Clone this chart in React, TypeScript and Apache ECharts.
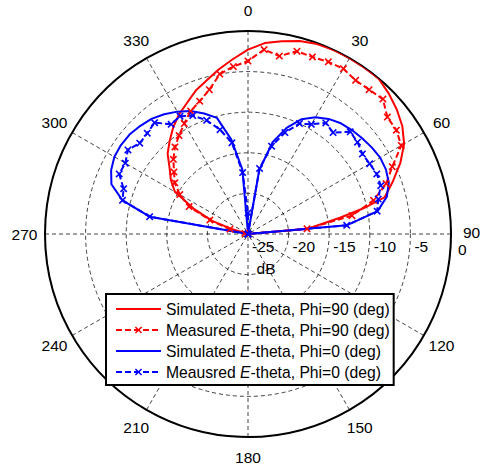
import React, { useEffect, useRef } from 'react';
import * as echarts from 'echarts';

const FONT = 'Liberation Sans, Arial, Helvetica, sans-serif';

const angleTicks = [0, 30, 60, 90, 120, 150, 180, 210, 240, 270, 300, 330];
const radialTicks = [-25, -20, -15, -10, -5, 0];
const radialUnit = 'dB';

const seriesNames = [
  'Simulated E-theta, Phi=90 (deg)',
  'Measured E-theta, Phi=90 (deg)',
  'Simulated E-theta, Phi=0 (deg)',
  'Meausred E-theta, Phi=0 (deg)',
];

const redSimAngles = [270, 280, 285, 287.5, 290, 295, 300, 305, 310, 315, 320, 325, 330, 335, 340, 345, 350, 355, 0, 5, 10, 15, 20, 25, 30, 35, 40, 45, 50, 55, 60, 65, 70, 75, 77.5, 80, 85, 90];
const redSimDb = [-25, -25, -24.5, -22.7, -20.3, -17.6, -14.6, -13.4, -12.4, -11.0, -10.0, -8.95, -8.0, -7.2, -6.2, -5.4, -4.4, -3.4, -2.3, -1.4, -0.9, -0.4, -0.1, 0, 0, 0, 0, -0.5, -1.1, -1.8, -2.8, -4.3, -6.0, -7.6, -10.5, -13.5, -17.7, -25];

const redMeasAngles = [270, 275, 280, 285, 290, 295, 300, 305, 310, 315, 320, 325, 330, 335, 340, 345, 350, 355, 0, 5, 10, 15, 20, 25, 30, 35, 40, 45, 50, 55, 60, 65, 70, 75, 80, 85, 90];
const redMeasDb = [-25, -25, -24.6, -22.7, -20, -17, -15.3, -14, -13.1, -12, -11, -10.2, -9.3, -8.3, -7.6, -6.6, -5, -4.3, -3.7, -2.2, -2.75, -1.7, -1.8, -1.6, -1.5, -1.9, -1.8, -1.5, -2.6, -2.7, -3.2, -5.4, -6.9, -9.0, -12, -17.7, -25];

const blueSimAngles = [270, 280, 285, 290, 295, 300, 305, 310, 315, 320, 325, 330, 335, 340, 345, 350, 355, 0, 5, 10, 15, 20, 25, 30, 35, 40, 45, 50, 55, 60, 65, 70, 75, 80, 85, 90];
const blueSimDb = [-25, -12.7, -9.0, -7.1, -6.4, -6.0, -5.9, -5.95, -6.2, -6.5, -7.0, -7.6, -8.3, -9.2, -10.2, -13.2, -17.0, -25, -25, -17, -13.3, -11.1, -9.4, -8.4, -7.7, -7.2, -6.9, -6.65, -6.4, -6.2, -6.25, -6.55, -7.3, -8.8, -12.8, -25];

const blueMeasAngles = [270, 280, 285, 290, 295, 300, 305, 310, 315, 320, 325, 330, 335, 340, 345, 350, 355, 0, 5, 10, 15, 20, 25, 30, 35, 40, 45, 50, 55, 60, 65, 70, 75, 80, 85, 90];
const blueMeasDb = [-25, -12.7, -9.0, -8.7, -7.5, -7.55, -6.95, -7.6, -7.45, -7.1, -8.5, -8.25, -8.9, -10.1, -11.7, -13.6, -17.4, -22.4, -25, -16.8, -13.8, -11.7, -10, -9.4, -8.3, -8.7, -7.2, -7.4, -7.8, -7.7, -7.5, -7.6, -8.4, -8.85, -12.8, -25];

const CX = 248;
const CY = 234;
const R = 203;
const LABEL_R = 223.5;

const XMARK = 'path://M0,1.5L1.5,0L5,3.5L8.5,0L10,1.5L6.5,5L10,8.5L8.5,10L5,6.5L1.5,10L0,8.5L3.5,5Z';

function pairs(angles: number[], vals: number[]) {
  return angles.map((a, i) => [vals[i], a]);
}

export default function App() {
  const ref = useRef<HTMLDivElement>(null);
  useEffect(() => {
    document.body.style.margin = '0';
    const chart = echarts.init(ref.current!, null, { renderer: 'svg' });
    const rMin = radialTicks[0];
    const rMax = radialTicks[radialTicks.length - 1];
    const toR = (v: number) => ((v - rMin) / (rMax - rMin)) * R;

    const textStyle = (text: string, align: string) => ({
      text,
      fill: '#000',
      font: `15.5px ${FONT}`,
      textAlign: align,
      textVerticalAlign: 'middle',
    });

    const graphics: any[] = radialTicks.map((v) => ({
      type: 'text',
      x: CX + toR(v) + (v === 0 ? 7 : 4),
      y: CY + (v === 0 ? 15 : 12),
      style: textStyle(String(v), 'left'),
      z: 5,
    }));
    graphics.push({
      type: 'text',
      x: CX + 18,
      y: CY + 34,
      style: textStyle(radialUnit, 'center'),
      z: 5,
    });
    angleTicks.forEach((a) => {
      const rad = (a * Math.PI) / 180;
      graphics.push({
        type: 'text',
        x: CX + LABEL_R * Math.sin(rad),
        y: CY - LABEL_R * Math.cos(rad) - (a === 90 ? 2 : 0),
        style: textStyle(String(a), 'center'),
        z: 5,
      });
    });

    const gridStyle = { color: '#111', type: [4, 3] as any, width: 0.8 };

    const mk = (name: string, color: string, data: number[][], measured: boolean) => ({
      name,
      type: 'line',
      coordinateSystem: 'polar',
      data,
      smooth: false,
      showSymbol: measured,
      symbol: measured ? XMARK : 'circle',
      symbolSize: 7.5,
      itemStyle: { color, borderWidth: 0 },
      lineStyle: { color, width: 2, type: measured ? ([6, 3] as any) : 'solid' },
      emphasis: { disabled: true },
      clip: false,
    });

    const legendData = seriesNames.map((name, i) =>
      i % 2 === 0
        ? { name, itemStyle: { color: 'rgba(0,0,0,0)', borderWidth: 0, opacity: 0 } }
        : { name }
    );

    chart.setOption({
      animation: false,
      backgroundColor: '#fff',
      polar: { center: [CX, CY], radius: R },
      angleAxis: {
        type: 'value',
        min: 0,
        max: 360,
        interval: 30,
        startAngle: 90,
        clockwise: true,
        axisLine: { show: true, lineStyle: { color: '#000', width: 2 } },
        axisTick: { show: false },
        axisLabel: { show: false },
        splitLine: { show: true, lineStyle: gridStyle },
      },
      radiusAxis: {
        type: 'value',
        min: rMin,
        max: rMax,
        interval: 5,
        axisLine: { show: false },
        axisTick: { show: false },
        axisLabel: { show: false },
        splitLine: { show: true, lineStyle: gridStyle },
      },
      legend: {
        orient: 'vertical',
        left: 106,
        top: 294,
        padding: [6, 4, 4, 9],
        itemWidth: 45,
        itemHeight: 9,
        itemGap: 3,
        borderColor: '#000',
        borderWidth: 2,
        backgroundColor: '#fff',
        selectedMode: false,
        data: legendData,
        formatter: (name: string) => {
          const i = name.indexOf('E-');
          return `{a|${name.slice(0, i)}}{b|E}{a|${name.slice(i + 1)}}`;
        },
        textStyle: {
          color: '#000',
          fontSize: 15.7,
          fontFamily: FONT,
          lineHeight: 18,
          rich: {
            a: { color: '#000', fontSize: 15.7, fontFamily: FONT, lineHeight: 18 },
            b: { color: '#000', fontSize: 15.7, fontFamily: FONT, fontStyle: 'italic', lineHeight: 18 },
          },
        },
      },
      graphic: graphics,
      series: [
        mk(seriesNames[0], '#ff0000', pairs(redSimAngles, redSimDb), false),
        mk(seriesNames[1], '#ff0000', pairs(redMeasAngles, redMeasDb), true),
        mk(seriesNames[2], '#0000ff', pairs(blueSimAngles, blueSimDb), false),
        mk(seriesNames[3], '#0000ff', pairs(blueMeasAngles, blueMeasDb), true),
      ],
    });
    return () => chart.dispose();
  }, []);
  return <div ref={ref} style={{ width: 482, height: 465 }} />;
}
